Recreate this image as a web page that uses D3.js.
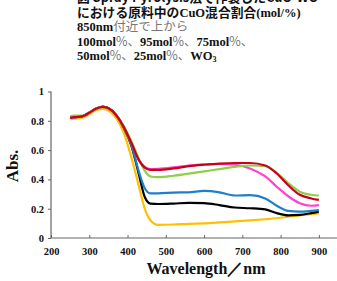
<!DOCTYPE html>
<html><head><meta charset="utf-8">
<script src="https://cdn.jsdelivr.net/npm/d3@7"></script>
<style>html,body{margin:0;padding:0;background:#fff;}svg{display:block;}</style>
</head><body>
<svg id="c" width="337" height="281"></svg>
<script>
const wavelengths = [250,260,280,290,300,320,335,350,370,390,410,430,445,460,480,520,560,600,640,680,720,760,790,820,850,880,900];
const absWO3  = [0.81,0.815,0.82,0.83,0.845,0.875,0.882,0.87,0.82,0.72,0.55,0.35,0.2,0.12,0.09,0.092,0.097,0.1,0.106,0.113,0.12,0.128,0.135,0.145,0.155,0.163,0.168];
const abs25   = [0.82,0.825,0.83,0.84,0.855,0.885,0.897,0.887,0.84,0.755,0.63,0.43,0.28,0.235,0.232,0.235,0.24,0.238,0.225,0.208,0.203,0.195,0.17,0.155,0.158,0.17,0.18];
const abs50   = [0.82,0.825,0.83,0.84,0.855,0.885,0.895,0.885,0.84,0.755,0.635,0.45,0.34,0.305,0.305,0.31,0.312,0.322,0.312,0.29,0.293,0.27,0.22,0.185,0.18,0.185,0.19];
const abs75   = [0.82,0.825,0.83,0.84,0.855,0.885,0.895,0.885,0.84,0.76,0.65,0.53,0.485,0.47,0.472,0.482,0.495,0.503,0.505,0.5,0.475,0.42,0.35,0.285,0.237,0.22,0.225];
const abs100  = [0.83,0.835,0.835,0.84,0.855,0.885,0.893,0.882,0.84,0.765,0.66,0.54,0.46,0.42,0.415,0.425,0.44,0.455,0.47,0.485,0.495,0.49,0.445,0.375,0.316,0.295,0.29];
const abs95   = [0.82,0.825,0.83,0.84,0.855,0.885,0.895,0.885,0.84,0.76,0.65,0.53,0.48,0.465,0.465,0.475,0.49,0.5,0.508,0.512,0.512,0.495,0.44,0.36,0.295,0.27,0.26];
const seriesNames  = ["WO3","25mol%","50mol%","75mol%","100mol%","95mol%"];
const seriesValues = [absWO3, abs25, abs50, abs75, abs100, abs95];
const seriesColors = ["#ffc000","#000000","#1f7fc8","#ff44cc","#8fcf4a","#c8001a"];
const xTicks = [200,300,400,500,600,700,800,900];
const yTicks = [0,0.2,0.4,0.6,0.8,1];

const svg = d3.select("#c");
const x = d3.scaleLinear().domain([200,950]).range([51,338]);
const y = d3.scaleLinear().domain([0,1]).range([238,91.5]);
const serif = "'Liberation Serif','Times New Roman',serif";
const jp = "'Noto Sans CJK JP',sans-serif";

// caption text
const cap = svg.append("g").attr("font-size",12.5);
function line(yy, parts){
  const t = cap.append("text").attr("x",77).attr("y",yy);
  parts.forEach(p=>{
    const s = t.append("tspan").text(p[0])
      .attr("font-family", p[1]==="jp"||p[1]==="jpg"||p[1]==="jpb" ? jp : serif)
      .attr("font-weight", p[1]==="b" || p[1]==="jpb" ? "bold" : "normal")
      .attr("fill", p[1]==="jpg" ? "#777" : "#111");
    if(p[1]==="jpb") s.attr("font-size",12.8);
    if(p[2]!==undefined) s.attr("dy",p[2]).attr("font-size",8);
  });
  return t;
}
line(1.5,[["図 Spray Pyrolysis法で作製したCuO-WO","jpb"]]);
line(17,[["における原料中の","jpb"],["CuO","b"],["混合割合","jpb"],["(mol/%)","b"]]);
line(31,[["850nm","b"],["付近で上から","jpg"]]);
line(45.5,[["100mol","b"],["%、","jpg"],["95mol","b"],["%、","jpg"],["75mol","b"],["%、","jpg"]]);
line(59.5,[["50mol","b"],["%、","jpg"],["25mol","b"],["%、","jpg"],["WO","b"],["3","b",2]]);

// axes
const axisColor = "#666";
const xAxis = svg.append("g").attr("transform","translate(0,238)")
  .call(d3.axisBottom(x).tickValues(xTicks).tickSize(-3).tickPadding(10).tickFormat(d3.format("d")));
const yAxis = svg.append("g").attr("transform","translate(51,0)")
  .call(d3.axisLeft(y).tickValues(yTicks).tickSize(3).tickPadding(4).tickFormat(d=>d===0?"0":d===1?"1":d3.format(".1f")(d)));
[xAxis,yAxis].forEach(a=>{
  a.select(".domain").attr("stroke",axisColor).attr("stroke-width",1.2);
  a.selectAll(".tick line").attr("stroke",axisColor);
  a.selectAll("text").attr("font-family",serif).attr("font-weight","bold").attr("font-size",10.5).attr("fill","#111");
});
xAxis.select(".domain").attr("d","M51,0H337");
yAxis.select(".domain").attr("d","M0,238V91.5");

// lines
const lineGen = d3.line().x(d=>x(d[0])).y(d=>y(d[1])).curve(d3.curveMonotoneX);
seriesValues.forEach((vals,i)=>{
  svg.append("path").datum(wavelengths.map((w,j)=>[w,vals[j]]))
    .attr("d",lineGen).attr("fill","none")
    .attr("stroke",seriesColors[i]).attr("stroke-width",2.2)
    .attr("stroke-linejoin","round");
});

// axis titles
svg.append("text").attr("transform","translate(18,166) rotate(-90)")
  .attr("text-anchor","middle").attr("font-family",serif).attr("font-weight","bold")
  .attr("font-size",17).attr("fill","#111").text("Abs.");
svg.append("text").attr("x",206).attr("y",274)
  .attr("text-anchor","middle").attr("font-family",serif).attr("font-weight","bold")
  .attr("font-size",16).attr("fill","#111").text("Wavelength／nm");
</script>
</body></html>
